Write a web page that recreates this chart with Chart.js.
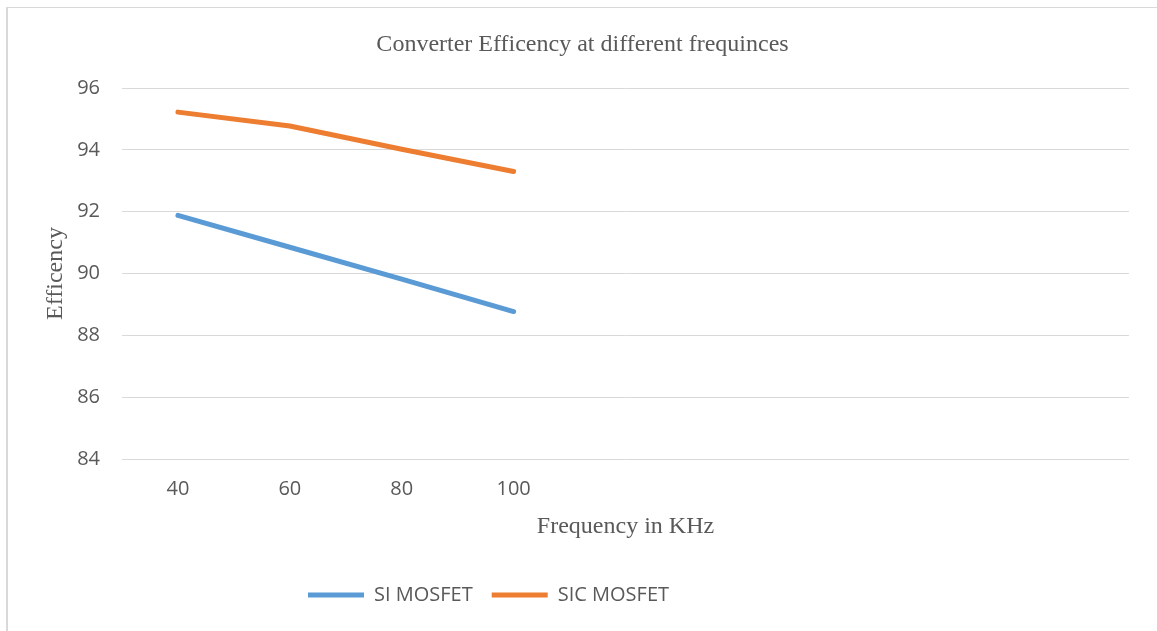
<!DOCTYPE html>
<html>
<head>
<meta charset="utf-8">
<script src="https://cdn.jsdelivr.net/npm/chart.js@4/dist/chart.umd.min.js"></script>
<style>
  html, body { margin: 0; padding: 0; background: #ffffff; }
  #wrap { width: 1157px; height: 631px; position: relative; }
</style>
</head>
<body>
<div id="wrap"><canvas id="c" width="1157" height="631"></canvas></div>
<script>
// Switching frequency categories (kHz); the trailing blanks keep the axis span
const frequencies = ['40', '60', '80', '100', '', '', '', '', ''];
// Converter efficiency (%) per frequency
const siMosfet  = [91.88, 90.85, 89.82, 88.77];
const sicMosfet = [95.22, 94.77, 94.02, 93.30];
// Y-axis range and step
const yMin = 84, yMax = 96, yStep = 2;

const textGrey = '#595959';
const gridGrey = '#d9d9d9';
const sansFont = "'Open Sans', 'Liberation Sans', sans-serif";
const serifFont = "'Liberation Serif', 'DejaVu Serif', serif";

// White page with the thin frame on the top and left edges
const framePlugin = {
  id: 'frame',
  beforeDraw(chart) {
    const ctx = chart.ctx;
    ctx.save();
    ctx.fillStyle = '#ffffff';
    ctx.fillRect(0, 0, chart.width, chart.height);
    ctx.fillStyle = gridGrey;
    ctx.fillRect(6, 7, 2, chart.height - 7);
    ctx.fillRect(6, 7, chart.width - 6, 1);
    ctx.restore();
  }
};

// Nudge the title and legend blocks horizontally
const blockShift = {
  id: 'blockShift',
  afterLayout(chart) {
    const lg = chart.legend;
    if (lg) { lg.left -= 76; lg.right -= 76; }
    const tb = chart.titleBlock;
    if (tb) { tb.left += 18; tb.right += 18; }
  }
};

new Chart(document.getElementById('c'), {
  type: 'line',
  data: {
    labels: frequencies,
    datasets: [
      {
        label: 'SI MOSFET',
        data: siMosfet,
        borderColor: '#5B9BD5',
        backgroundColor: '#5B9BD5',
        borderWidth: 5,
        borderCapStyle: 'round',
        borderJoinStyle: 'round',
        pointRadius: 0,
        tension: 0,
        fill: false
      },
      {
        label: 'SIC MOSFET',
        data: sicMosfet,
        borderColor: '#ED7D31',
        backgroundColor: '#ED7D31',
        borderWidth: 5,
        borderCapStyle: 'round',
        borderJoinStyle: 'round',
        pointRadius: 0,
        tension: 0,
        fill: false
      }
    ]
  },
  options: {
    responsive: false,
    animation: false,
    devicePixelRatio: 1,
    layout: { padding: { left: 0, right: 28, top: 0, bottom: 16 } },
    plugins: {
      title: {
        display: true,
        text: 'Converter Efficency at different frequinces',
        color: textGrey,
        font: { family: serifFont, size: 24, weight: 'normal', lineHeight: 1.2 },
        padding: { top: 30.6, bottom: 28.6 }
      },
      legend: {
        display: true,
        position: 'bottom',
        labels: {
          usePointStyle: true,
          pointStyle: 'line',
          pointStyleWidth: 56,
          padding: 19,
          color: textGrey,
          font: { family: sansFont, size: 20 }
        }
      },
      tooltip: { enabled: false }
    },
    scales: {
      x: {
        type: 'category',
        offset: true,
        grid: { display: false, drawTicks: false },
        border: { display: false },
        ticks: {
          color: textGrey,
          font: { family: sansFont, size: 20 },
          padding: 18,
          maxRotation: 0,
          autoSkip: false
        },
        title: {
          display: true,
          text: 'Frequency in KHz',
          color: textGrey,
          font: { family: serifFont, size: 24, lineHeight: 1.2 },
          padding: { top: 4, bottom: 24.6 }
        },
        afterFit(scale) { scale.height = 107; }
      },
      y: {
        min: yMin,
        max: yMax,
        grid: { color: gridGrey, lineWidth: 1, drawTicks: false },
        border: { display: false },
        ticks: {
          stepSize: yStep,
          color: textGrey,
          font: { family: sansFont, size: 20 },
          padding: 22
        },
        title: {
          display: true,
          text: 'Efficency',
          color: textGrey,
          font: { family: serifFont, size: 24, lineHeight: 1.2 },
          padding: { top: 41.6, bottom: 0 }
        },
        afterFit(scale) { scale.width = 122; }
      }
    }
  },
  plugins: [framePlugin, blockShift]
});
</script>
</body>
</html>
